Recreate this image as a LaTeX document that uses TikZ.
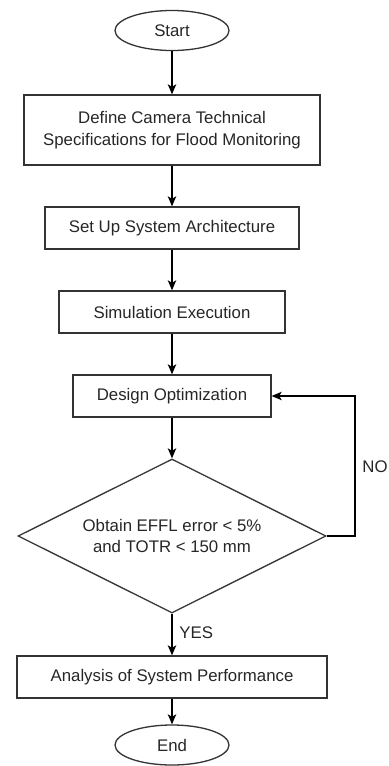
\documentclass[tikz,border=0pt]{standalone}
\usepackage{fontspec}
\setmainfont{Liberation Sans}
\usetikzlibrary{shapes.geometric,arrows.meta}
\begin{document}
\begin{tikzpicture}[x=0.5pt,y=-0.5pt,
  every node/.style={font=\fontsize{8.4}{10.8}\selectfont, text=black!85},
  procbox/.style={draw=black!80, line width=0.65pt, rectangle, inner sep=0pt, minimum height=21pt, align=center},
  termbox/.style={draw=black!80, line width=0.65pt, ellipse, inner sep=0pt, minimum width=57pt, minimum height=20pt},
  decbox/.style={draw=black!80, line width=0.65pt, diamond, shape aspect=2, inner sep=0pt, minimum width=154pt, minimum height=77pt, align=center},
  flow/.style={draw=black, line width=0.65pt, -{Stealth[length=5pt,width=4.2pt,inset=1.2pt]}},
  lbl/.style={inner sep=0pt}
]
\useasboundingbox (0,0) rectangle (388,766);
\node[termbox] (start) at (172,30.5) {Start};
\node[procbox, minimum width=148pt, minimum height=35pt] (def) at (172,130) {Define Camera Technical\\Specifications for Flood Monitoring};
\node[procbox, minimum width=127pt] (arch) at (172,228) {Set Up System Architecture};
\node[procbox, minimum width=113pt] (sim) at (172,312) {Simulation Execution};
\node[procbox, minimum width=99pt] (opt) at (172,396) {Design Optimization};
\node[decbox] (dec) at (172,536) {Obtain EFFL error < 5\%\\and TOTR < 150 mm};
\node[procbox, minimum width=155pt] (ana) at (172,677) {Analysis of System Performance};
\node[termbox] (end) at (172,745) {End};
\coordinate (nob) at (355,536);
\coordinate (not) at (355,396);
\draw[flow] (start) -- (def);
\draw[flow] (def) -- (arch);
\draw[flow] (arch) -- (sim);
\draw[flow] (sim) -- (opt);
\draw[flow] (opt) -- (dec);
\draw[flow] (dec) -- (ana);
\node[lbl, anchor=west] (yeslbl) at (179,633) {YES};
\draw[flow] (ana) -- (end);
\draw[flow] (dec.east) -- (nob) -- (not) -- (opt.east);
\node[lbl, anchor=west] (nolbl) at (362,467) {NO};
\end{tikzpicture}
\end{document}
